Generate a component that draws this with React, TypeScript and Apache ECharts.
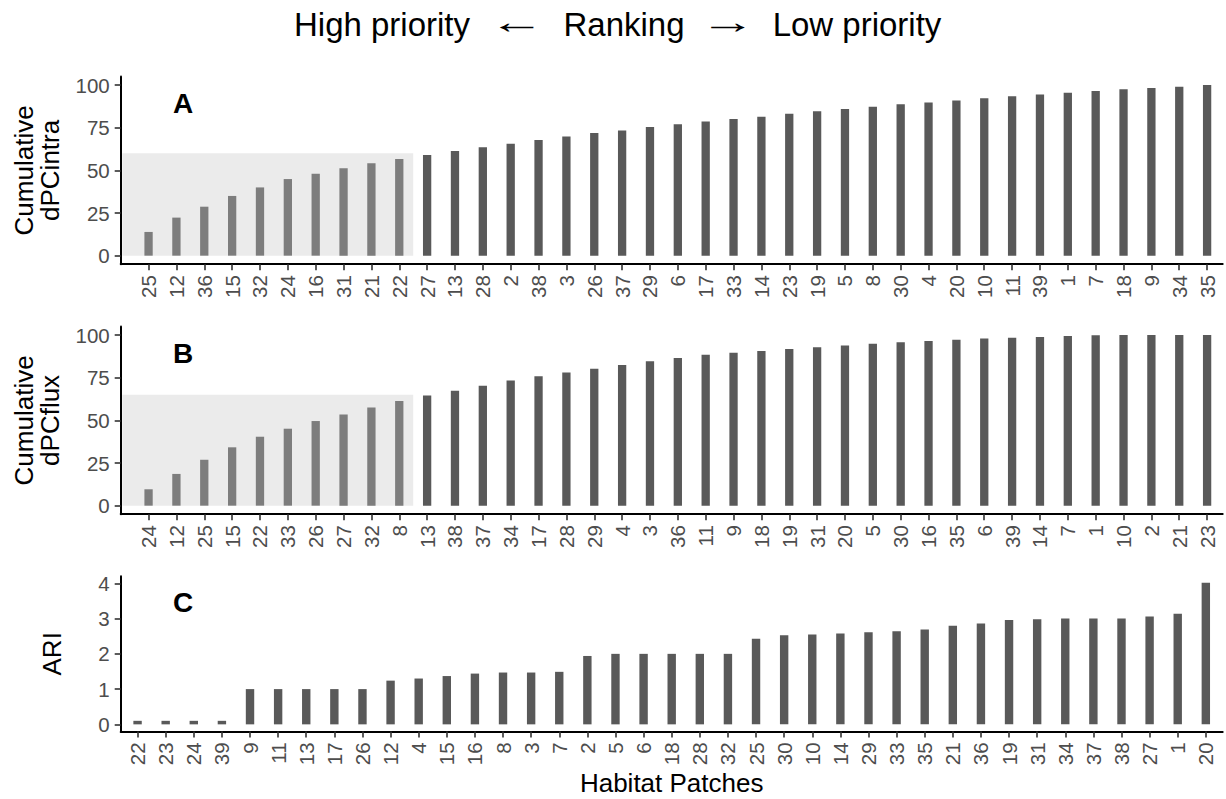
import React, { useEffect, useRef } from "react";
import * as echarts from "echarts";

// ---------- data ----------
const catsA = ["25","12","36","15","32","24","16","31","21","22","27","13","28","2","38","3","26","37","29","6","17","33","14","23","19","5","8","30","4","20","10","11","39","1","7","18","9","34","35"];
const valsA = [13.9,22.3,28.7,35.0,40.0,44.9,48.0,51.2,54.1,56.6,59.0,61.3,63.5,65.6,67.8,69.9,71.9,73.4,75.4,77.0,78.7,80.1,81.4,83.2,84.6,85.9,87.3,88.7,89.8,91.0,92.2,93.4,94.5,95.5,96.5,97.5,98.2,99.0,100];

const catsB = ["24","12","25","15","22","33","26","27","32","8","13","38","37","34","17","28","29","4","3","36","11","9","18","19","31","20","5","30","16","35","6","39","14","7","1","10","2","21","23"];
const valsB = [9.6,18.6,26.9,34.2,40.4,45.1,49.6,53.5,57.6,61.3,64.5,67.4,70.3,73.4,75.8,78.1,80.3,82.5,84.6,86.5,88.5,89.6,90.6,91.8,92.8,93.9,94.9,95.7,96.5,97.3,97.9,98.4,98.8,99.4,99.8,100,100,100,100];

const catsC = ["22","23","24","39","9","11","13","17","26","12","4","15","16","8","3","7","2","5","6","18","28","32","25","30","10","14","29","33","35","21","36","19","31","34","37","38","27","1","20"];
const valsC = [0.1,0.1,0.1,0.1,1,1,1,1,1,1.24,1.30,1.37,1.44,1.47,1.47,1.49,1.94,2,2,2,2,2,2.43,2.53,2.55,2.58,2.61,2.64,2.69,2.80,2.86,2.96,2.98,3.0,3.0,3.0,3.06,3.14,4.02];

const ticksCum = [0, 25, 50, 75, 100];
const ticksARI = [0, 1, 2, 3, 4];
const highlightCount = 10; // top-ranked patches inside the shaded area
const shadeTopA = 60;
const shadeTopB = 65;

// ---------- style ----------
const FONT = "'Liberation Sans', Arial, Helvetica, sans-serif";
const DARK = "#595959";
const LIGHT = "#7d7d7d";
const SHADE = "#ebebeb";
const TICK_COLOR = "#4d4d4d";

const positions = (n: number) => Array.from({ length: n }, (_, i) => i + 1);

function xAxisFor(idx: number, cats: string[], min: number, max: number) {
  const pos = positions(cats.length);
  return {
    type: "value",
    gridIndex: idx,
    min,
    max,
    position: "bottom",
    splitLine: { show: false },
    axisLine: { show: true, onZero: false, lineStyle: { color: "#000", width: 2 } },
    axisTick: { show: true, customValues: pos, length: 6, lineStyle: { color: "#333", width: 1.6 } },
    axisLabel: {
      show: true,
      customValues: pos,
      rotate: 90,
      margin: 11,
      fontSize: 20.5,
      fontFamily: FONT,
      color: TICK_COLOR,
      formatter: (v: number) => cats[Math.round(v) - 1] ?? "",
    },
  };
}

function yAxisFor(idx: number, ticks: number[], min: number, max: number) {
  return {
    type: "value",
    gridIndex: idx,
    min,
    max,
    splitLine: { show: false },
    axisLine: { show: true, onZero: false, lineStyle: { color: "#000", width: 2 } },
    axisTick: { show: true, customValues: ticks, length: 6, lineStyle: { color: "#333", width: 1.6 } },
    axisLabel: {
      show: true,
      customValues: ticks,
      margin: 11,
      fontSize: 20.5,
      fontFamily: FONT,
      color: TICK_COLOR,
    },
  };
}

function barSeries(idx: number, vals: number[], hl: number, width: number) {
  return {
    type: "bar",
    xAxisIndex: idx,
    yAxisIndex: idx,
    barWidth: width,
    z: 3,
    silent: true,
    data: vals.map((v, k) => ({
      value: [k + 1, v],
      itemStyle: { color: k < hl ? LIGHT : DARK },
    })),
  };
}

function shadeSeries(idx: number, hl: number, top: number) {
  return {
    type: "line",
    xAxisIndex: idx,
    yAxisIndex: idx,
    data: [],
    z: 1,
    silent: true,
    markArea: {
      silent: true,
      itemStyle: { color: SHADE },
      data: [[{ xAxis: 0.06, yAxis: 0 }, { xAxis: hl + 0.5, yAxis: top }]],
    },
  };
}

export default function App() {
  const ref = useRef<HTMLDivElement>(null);

  useEffect(() => {
    if (!ref.current) return;
    const chart = echarts.init(ref.current, undefined, { renderer: "svg" });

    const gridLeft = 120.7;
    const gridWidth = 1102;

    const option: any = {
      animation: false,
      backgroundColor: "#ffffff",
      grid: [
        { left: gridLeft, top: 76.5, width: gridWidth, height: 187.7, outerBoundsMode: "none" },
        { left: gridLeft, top: 326.5, width: gridWidth, height: 187.7, outerBoundsMode: "none" },
        { left: gridLeft, top: 576.3, width: gridWidth, height: 155.1, outerBoundsMode: "none" },
      ],
      xAxis: [
        xAxisFor(0, catsA, 0, 39.56),
        xAxisFor(1, catsB, 0, 39.56),
        xAxisFor(2, catsC, 0.4, 39.6),
      ],
      yAxis: [
        yAxisFor(0, ticksCum, -5, 105),
        yAxisFor(1, ticksCum, -5, 105),
        yAxisFor(2, ticksARI, -0.2, 4.2),
      ],
      series: [
        shadeSeries(0, highlightCount, shadeTopA),
        shadeSeries(1, highlightCount, shadeTopB),
        barSeries(0, valsA, highlightCount, 8.3),
        barSeries(1, valsB, highlightCount, 8.3),
        barSeries(2, valsC, 0, 8.4),
      ],
      graphic: [
        // title
        { type: "text", x: 382, y: 24, style: { text: "High priority", fontSize: 33, fontFamily: FONT, fill: "#000", align: "center", verticalAlign: "middle" } },
        { type: "text", x: 517, y: 22, scaleX: 1.7, style: { text: "←", fontSize: 33, fontFamily: FONT, fill: "#000", align: "center", verticalAlign: "middle" } },
        { type: "text", x: 624, y: 24, style: { text: "Ranking", fontSize: 33, fontFamily: FONT, fill: "#000", align: "center", verticalAlign: "middle" } },
        { type: "text", x: 728, y: 22, scaleX: 1.7, style: { text: "→", fontSize: 33, fontFamily: FONT, fill: "#000", align: "center", verticalAlign: "middle" } },
        { type: "text", x: 857, y: 24, style: { text: "Low priority", fontSize: 33, fontFamily: FONT, fill: "#000", align: "center", verticalAlign: "middle" } },
        // panel letters
        { type: "text", x: 183, y: 103, style: { text: "A", fontSize: 28, fontWeight: "bold", fontFamily: FONT, fill: "#000", align: "center", verticalAlign: "middle" } },
        { type: "text", x: 183, y: 353, style: { text: "B", fontSize: 28, fontWeight: "bold", fontFamily: FONT, fill: "#000", align: "center", verticalAlign: "middle" } },
        { type: "text", x: 183, y: 602, style: { text: "C", fontSize: 28, fontWeight: "bold", fontFamily: FONT, fill: "#000", align: "center", verticalAlign: "middle" } },
        // y axis titles
        { type: "text", x: 37, y: 170.4, rotation: Math.PI / 2, style: { text: "Cumulative\ndPCintra", fontSize: 26, lineHeight: 26, fontFamily: FONT, fill: "#000", align: "center", verticalAlign: "middle" } },
        { type: "text", x: 37, y: 420.4, rotation: Math.PI / 2, style: { text: "Cumulative\ndPCflux", fontSize: 26, lineHeight: 26, fontFamily: FONT, fill: "#000", align: "center", verticalAlign: "middle" } },
        { type: "text", x: 52, y: 653.8, rotation: Math.PI / 2, style: { text: "ARI", fontSize: 26, fontFamily: FONT, fill: "#000", align: "center", verticalAlign: "middle" } },
        // x axis title
        { type: "text", x: 671.7, y: 783, style: { text: "Habitat Patches", fontSize: 26, fontFamily: FONT, fill: "#000", align: "center", verticalAlign: "middle" } },
      ],
    };

    chart.setOption(option);
    return () => chart.dispose();
  }, []);

  return (
    <div
      ref={ref}
      style={{ position: "absolute", left: 0, top: 0, width: 1226, height: 799, background: "#fff" }}
    />
  );
}
